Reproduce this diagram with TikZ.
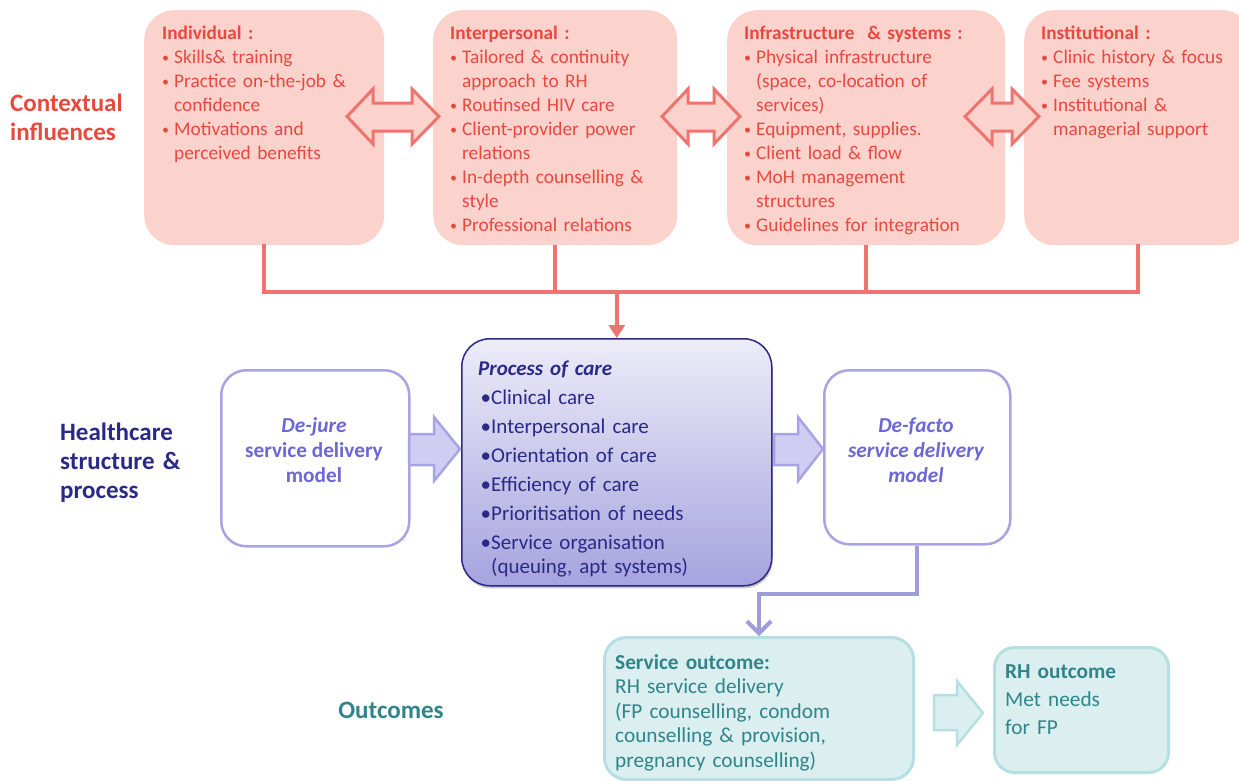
\documentclass[tikz,border=0pt]{standalone}
\usepackage{fontspec}
\setmainfont{Carlito}
\usetikzlibrary{arrows.meta,shadows}
\definecolor{pinkfill}{HTML}{FCD2CD}
\definecolor{redtxt}{HTML}{E8493F}
\definecolor{redline}{HTML}{EE7470}
\definecolor{lavline}{HTML}{A8A4E4}
\definecolor{lavtxt}{HTML}{6C67D6}
\definecolor{lavfill}{HTML}{CFCDF2}
\definecolor{navy}{HTML}{2B2987}
\definecolor{proctop}{HTML}{EDECF8}
\definecolor{procbot}{HTML}{A6A3DE}
\definecolor{tealfill}{HTML}{DCEFF0}
\definecolor{tealline}{HTML}{B6DFE1}
\definecolor{tealtxt}{HTML}{2F8589}
\newcommand\bi{\noindent\hangindent=12pt\hangafter=1\makebox[12pt][l]{\raisebox{1pt}{\fontsize{14}{14}\selectfont •}}}
\newcommand\pbi{\noindent\hangindent=13pt\hangafter=1\makebox[13pt][l]{\hspace{2.5pt}•}}
\begin{document}
\begin{tikzpicture}[x=1pt,y=-1pt,
  topbox/.style={fill=pinkfill, rounded corners=30pt, minimum height=235pt, anchor=north west, inner sep=0pt},
  toptext/.style={anchor=base west, inner sep=0pt, text width=240pt, align=left, text=redtxt, font=\fontsize{19.3}{24}\selectfont},
  darr/.style={draw=redline, line width=3pt, fill=pinkfill, line join=miter},
  redconn/.style={draw=redline, line width=3.6pt},
  lavbox/.style={draw=lavline, line width=2.5pt, fill=white, rounded corners=25pt, anchor=north west, inner sep=0pt},
  lavtext/.style={inner sep=0pt, align=center, text=lavtxt, font=\fontsize{21.3}{25}\selectfont\bfseries},
  parr/.style={draw=lavline, line width=2.5pt, fill=lavfill},
  lavconn/.style={draw=lavline!95!black, line width=4pt},
  tealbox/.style={draw=tealline, line width=3pt, fill=tealfill, rounded corners=22pt, anchor=north west, inner sep=0pt},
  tealtext/.style={anchor=base west, inner sep=0pt, text width=300pt, align=left, text=tealtxt},
  tarr/.style={draw=tealline, line width=2.5pt, fill=tealfill},
  sidelabel/.style={anchor=base west, inner sep=0pt, text width=200pt, align=left, font=\fontsize{25}{29}\selectfont\bfseries}
]
\useasboundingbox (0,0) rectangle (1239,780);
\clip (0,0) rectangle (1239,780);
\fill[white] (0,0) rectangle (1239,780);

% ---- top row boxes
\node[topbox, minimum width=240pt] (ind) at (144,10) {};
\node[topbox, minimum width=244pt] (inter) at (433,10) {};
\node[topbox, minimum width=278pt] (infra) at (727,10) {};
\node[topbox, minimum width=228pt] (inst) at (1024,10) {};

% ---- double arrows
\draw[darr] (347,116.5) -- (373,89) -- (373,103) -- (412,103) -- (412,89) -- (439,116.5)
  -- (412,144) -- (412,131) -- (373,131) -- (373,144) -- cycle;
\draw[darr] (662,116.5) -- (688,89) -- (688,103) -- (714,103) -- (714,89) -- (740,116.5)
  -- (714,144) -- (714,131) -- (688,131) -- (688,144) -- cycle;
\draw[darr] (965,116.5) -- (992,89) -- (992,103) -- (1012,103) -- (1012,89) -- (1039,116.5)
  -- (1012,144) -- (1012,131) -- (992,131) -- (992,144) -- cycle;

% ---- top texts
\node[toptext] (indT) at (162,39) {\textbf{Individual :}\par
\bi Skills\& training\par
\bi Practice on-the-job \&\newline confidence\par
\bi Motivations and\newline perceived benefits\par};
\node[toptext] (interT) at (450,39) {\textbf{Interpersonal :}\par
\bi Tailored \& continuity\newline approach to RH\par
\bi Routinsed HIV care\par
\bi Client-provider power\newline relations\par
\bi In-depth counselling \&\newline style\par
\bi Professional relations\par};
\node[toptext] (infraT) at (744,39) {\textbf{Infrastructure \ \& systems :}\par
\bi Physical infrastructure\newline (space, co-location of\newline services)\par
\bi Equipment, supplies.\par
\bi Client load \& flow\par
\bi MoH management\newline structures\par
\bi Guidelines for integration\par};
\node[toptext] (instT) at (1041,39) {\textbf{Institutional :}\par
\bi Clinic history \& focus\par
\bi Fee systems\par
\bi Institutional \&\newline managerial support\par};

% ---- side labels
\node[sidelabel, text=redtxt] (ctx) at (10,111) {Contextual\\influences};
\node[sidelabel, text=navy] (hc) at (60,440) {Healthcare\\structure \&\\process};
\node[inner sep=0pt, anchor=base, text=tealtxt, font=\fontsize{25}{29}\selectfont\bfseries] (outc) at (391,718) {Outcomes};

% ---- middle row
\node[lavbox, minimum width=188pt, minimum height=176pt] (dejure) at (220,369) {};
\node[lavtext] (dejureT) at (314,450) {\textit{De-jure}\\service delivery\\model};
\node[lavbox, minimum width=186pt, minimum height=174pt] (defacto) at (823,369) {};
\node[lavtext] (defactoT) at (916,450) {\itshape De-facto\\\itshape service delivery\\\itshape model};

\node[draw=navy, line width=1.5pt, rounded corners=28pt, top color=proctop, bottom color=procbot,
  minimum width=310pt, minimum height=247pt, anchor=north west, inner sep=0pt,
  drop shadow={shadow xshift=1pt, shadow yshift=-2.5pt, opacity=0.35, fill=black!60}] (proc) at (461,338) {};
\node[anchor=base west, inner sep=0pt, text width=295pt, align=left, text=navy,
  font=\fontsize{21}{24}\selectfont\setlength{\parskip}{5pt}] (procT) at (478,375)
  {\textbf{\textit{Process of care}}\par
  \pbi Clinical care\par
  \pbi Interpersonal care\par
  \pbi Orientation of care\par
  \pbi Efficiency of care\par
  \pbi Prioritisation of needs\par
  \pbi Service organisation\newline (queuing, apt systems)\par};

\draw[parr] (409,434) -- (434,434) -- (434,417) -- (460,449) -- (434,481) -- (434,465) -- (409,465) -- cycle;
\draw[parr] (774,434) -- (798,434) -- (798,417) -- (823,449) -- (798,481) -- (798,465) -- (774,465) -- cycle;

% ---- outcomes
\node[tealbox, minimum width=309pt, minimum height=142pt] (svc) at (603,636) {};
\node[tealtext, font=\fontsize{21.3}{24.5}\selectfont] (svcT) at (615,669)
  {\textbf{Service outcome:}\\RH service delivery\\(FP counselling, condom\\counselling \& provision,\\pregnancy counselling)};
\node[tealbox, rounded corners=20pt, minimum width=174pt, minimum height=125pt] (rh) at (993,646) {};
\node[tealtext, font=\fontsize{21.3}{28}\selectfont] (rhT) at (1005,678)
  {\textbf{RH outcome}\\Met needs\\for FP};
\draw[tarr] (934,695) -- (957,695) -- (957,681) -- (983,713) -- (957,745) -- (957,730) -- (934,730) -- cycle;

% ---- connectors
\coordinate (bus) at (0,292);
\draw[redconn, line cap=rect] (ind.south) -- (ind.south |- bus) -- (inst.south |- bus) -- (inst.south);
\draw[redconn] (inter.south) -- (inter.south |- bus);
\draw[redconn] (infra.south) -- (infra.south |- bus);
\draw[redconn, -{Triangle[length=13pt,width=16pt]}] (proc.north |- bus) -- (proc.north);

\draw[lavconn, -{Straight Barb[length=12pt,width=24pt]}] (defacto.south) -- ++(0,48) -| (svc.north);
\end{tikzpicture}
\end{document}
